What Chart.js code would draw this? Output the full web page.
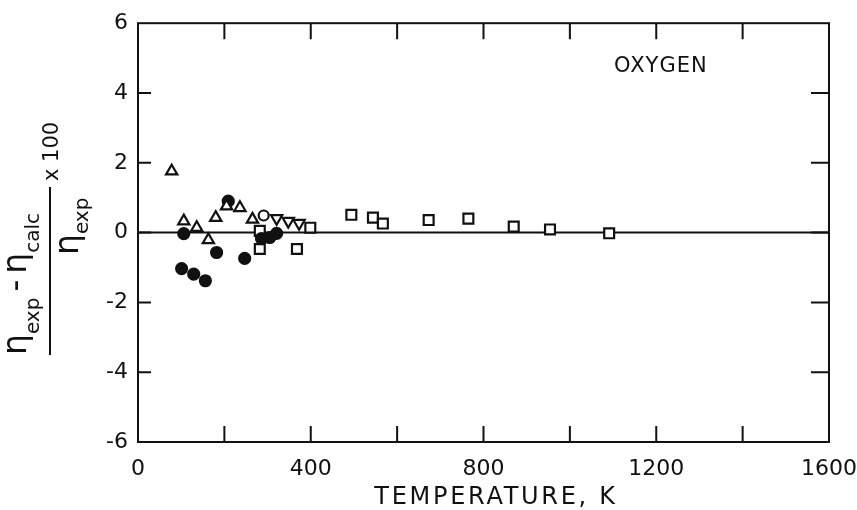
<!DOCTYPE html>
<html>
<head>
<meta charset="utf-8">
<script src="https://cdn.jsdelivr.net/npm/chart.js@4"></script>
<style>
  html, body { margin: 0; padding: 0; background: #fff; }
  #wrap { width: 857px; height: 510px; }
</style>
</head>
<body>
<div id="wrap"><canvas id="chart" width="857" height="510"></canvas></div>
<script>
// data (T in K, deviation in %)
const triUpT = [78, 106, 136, 163, 180, 205, 236, 265];
const triUpD = [1.76, 0.33, 0.14, -0.21, 0.43, 0.76, 0.71, 0.38];
const openCircT = [291];
const openCircD = [0.49];
const triDownT = [321, 348, 373];
const triDownD = [0.41, 0.33, 0.27];
const dotT = [209, 106, 101, 129, 156, 182, 247, 286, 305, 321];
const dotD = [0.90, -0.03, -1.03, -1.19, -1.38, -0.57, -0.74, -0.17, -0.14, -0.02];
const squareT = [282, 282, 368, 399, 494, 544, 567, 673, 765, 870, 954, 1091];
const squareD = [0.05, -0.47, -0.47, 0.14, 0.51, 0.43, 0.26, 0.36, 0.40, 0.17, 0.09, -0.02];

const xMin = 0, xMax = 1600, xLabelStep = 400, xMinorStep = 200;
const yMin = -6, yMax = 6, yStep = 2;

const INK = '#111';
const FONT = '"DejaVu Sans", sans-serif';

const pts = (xs, ys) => xs.map((x, i) => ({ x: x, y: ys[i] }));

function series(data, style, filled, extra) {
  return Object.assign({
    data: data,
    pointStyle: style,
    pointRadius: 5,
    pointBorderWidth: 2.2,
    pointBorderColor: INK,
    pointBackgroundColor: filled ? INK : '#fff',
    showLine: false
  }, extra || {});
}

// frame, zero line, inward ticks
const framePlugin = {
  id: 'frame',
  beforeDatasetsDraw(chart) {
    const { ctx, chartArea: a, scales } = chart;
    const x = scales.x, y = scales.y;
    ctx.save();
    ctx.strokeStyle = INK;
    ctx.lineWidth = 2;
    ctx.strokeRect(a.left, a.top, a.right - a.left, a.bottom - a.top);

    // zero line
    const y0 = y.getPixelForValue(0);
    ctx.beginPath();
    ctx.moveTo(a.left, y0);
    ctx.lineTo(a.right, y0);
    ctx.stroke();

    ctx.beginPath();
    for (let v = xMin + xMinorStep; v < xMax; v += xMinorStep) {
      const px = x.getPixelForValue(v);
      ctx.moveTo(px, a.bottom); ctx.lineTo(px, a.bottom - 16);
      ctx.moveTo(px, a.top); ctx.lineTo(px, a.top + 16);
    }
    for (let v = yMin + yStep; v < yMax; v += yStep) {
      const py = y.getPixelForValue(v);
      ctx.moveTo(a.left, py); ctx.lineTo(a.left + 13, py);
      ctx.moveTo(a.right, py); ctx.lineTo(a.right - 18, py);
    }
    ctx.stroke();
    ctx.restore();
  },
  afterDraw(chart) {
    const { ctx } = chart;
    ctx.save();
    ctx.fillStyle = INK;
    ctx.strokeStyle = INK;

    // gas name
    ctx.font = '21px ' + FONT;
    ctx.textAlign = 'left';
    ctx.textBaseline = 'alphabetic';
    ctx.letterSpacing = '1px';
    ctx.fillText('OXYGEN', 614, 72);

    // x title
    ctx.font = '24px ' + FONT;
    ctx.letterSpacing = '2.7px';
    ctx.textAlign = 'center';
    ctx.fillText('TEMPERATURE, K', 496, 504);
    ctx.letterSpacing = '0px';

    // y title: (eta_exp - eta_calc) / eta_exp x 100, rotated
    ctx.translate(50, 275);
    ctx.rotate(-Math.PI / 2);
    ctx.textAlign = 'left';
    const big = '33px ' + FONT, small = '20px ' + FONT;
    let cx = -80;
    const put = (txt, font, base) => {
      ctx.font = font;
      ctx.fillText(txt, cx, base);
      cx += ctx.measureText(txt).width;
    };
    put('η', big, -24);
    put('exp', small, -11);
    cx += 6;
    put('-', big, -24);
    cx += 6;
    put('η', big, -24);
    put('calc', small, -11);

    ctx.lineWidth = 2;
    ctx.beginPath();
    ctx.moveTo(-80, 0);
    ctx.lineTo(88, 0);
    ctx.stroke();

    cx = 20;
    put('η', big, 28);
    put('exp', small, 38);

    cx = 94;
    put('x 100', '21px ' + FONT, 8);
    ctx.restore();
  }
};

new Chart(document.getElementById('chart'), {
  type: 'scatter',
  data: {
    datasets: [
      series(pts(triUpT, triUpD), 'triangle', false, { pointRadius: 6.5 }),
      series(pts(openCircT, openCircD), 'circle', false),
      series(pts(triDownT, triDownD), 'triangle', false, { pointRadius: 6.5, pointRotation: 180 }),
      series(pts(dotT, dotD), 'circle', true, { pointRadius: 5.5 }),
      series(pts(squareT, squareD), 'rect', false, { pointRadius: 7 })
    ]
  },
  options: {
    responsive: false,
    animation: false,
    events: [],
    layout: { padding: { left: 0, right: 28, top: 21, bottom: 0 } },
    plugins: {
      legend: { display: false },
      tooltip: { enabled: false }
    },
    scales: {
      x: {
        type: 'linear',
        min: xMin,
        max: xMax,
        border: { display: false },
        grid: { display: false, drawTicks: false },
        ticks: {
          stepSize: xLabelStep,
          color: INK,
          padding: 14,
          maxRotation: 0,
          font: { family: FONT, size: 22 },
          callback: (v) => String(v)
        },
        afterFit(scale) {
          scale.height = 68;
          scale.paddingLeft = 0;
          scale.paddingRight = 0;
        }
      },
      y: {
        min: yMin,
        max: yMax,
        border: { display: false },
        grid: { display: false, drawTicks: false },
        ticks: {
          stepSize: yStep,
          color: INK,
          padding: 10,
          font: { family: FONT, size: 22 }
        },
        afterFit(scale) { scale.width = 138; }
      }
    }
  },
  plugins: [framePlugin]
});
</script>
</body>
</html>
